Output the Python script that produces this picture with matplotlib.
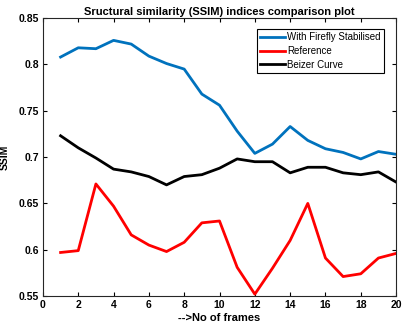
import numpy as np
import matplotlib
matplotlib.use('Agg')
import matplotlib.pyplot as plt

# data
frames = list(range(1, 21))
firefly = [0.808, 0.818, 0.817, 0.826, 0.822, 0.809, 0.801, 0.795, 0.768, 0.756,
           0.728, 0.704, 0.714, 0.733, 0.718, 0.709, 0.705, 0.698, 0.706, 0.703]
reference = [0.597, 0.599, 0.671, 0.647, 0.616, 0.605, 0.598, 0.608, 0.629, 0.631,
             0.581, 0.552, 0.580, 0.610, 0.650, 0.591, 0.571, 0.574, 0.591, 0.596]
beizer = [0.723, 0.710, 0.699, 0.687, 0.684, 0.679, 0.670, 0.679, 0.681, 0.688,
          0.698, 0.695, 0.695, 0.683, 0.689, 0.689, 0.683, 0.681, 0.684, 0.673]
x_ticks = list(range(0, 21, 2))
y_ticks = [0.55, 0.6, 0.65, 0.7, 0.75, 0.8, 0.85]
y_labels = ['0.55', '0.6', '0.65', '0.7', '0.75', '0.8', '0.85']

plt.rcParams['font.family'] = ['Liberation Sans', 'DejaVu Sans']

fig = plt.figure(figsize=(4.05, 3.36), dpi=100)
ax = fig.add_axes([0.106, 0.119, 0.872, 0.827])

ax.plot(frames, firefly, color=(0, 0.447, 0.741), lw=2, label='With Firefly Stabilised')
ax.plot(frames, reference, color='red', lw=2, label='Reference')
ax.plot(frames, beizer, color='black', lw=2, label='Beizer Curve')

ax.set_xlim(0, 20)
ax.set_ylim(0.55, 0.85)
ax.set_xticks(x_ticks)
ax.set_yticks(y_ticks)
ax.set_yticklabels(y_labels)
ax.tick_params(direction='in', top=True, right=True, length=3, width=0.8,
               labelsize=7.5, pad=3)
for lab in ax.get_xticklabels() + ax.get_yticklabels():
    lab.set_fontweight('bold')
for sp in ax.spines.values():
    sp.set_color('#262626')
    sp.set_linewidth(0.8)

ax.set_title('Sructural similarity (SSIM) indices comparison plot',
             fontsize=8, fontweight='bold', pad=2)
ax.set_xlabel('-->No of frames', fontsize=8, fontweight='bold', labelpad=2)
ax.set_ylabel('SSIM', fontsize=7.5, fontweight='bold', labelpad=6)

# legend box sits a little inside the top-right corner
leg = ax.legend(loc='upper right', bbox_to_anchor=(0.966, 0.962), fontsize=7,
                fancybox=False, edgecolor='black', framealpha=1,
                handlelength=2.6, handletextpad=0.2, borderpad=0.35,
                labelspacing=0.4, borderaxespad=0)
leg.get_frame().set_linewidth(0.8)

fig.savefig('out.png', dpi=100)
